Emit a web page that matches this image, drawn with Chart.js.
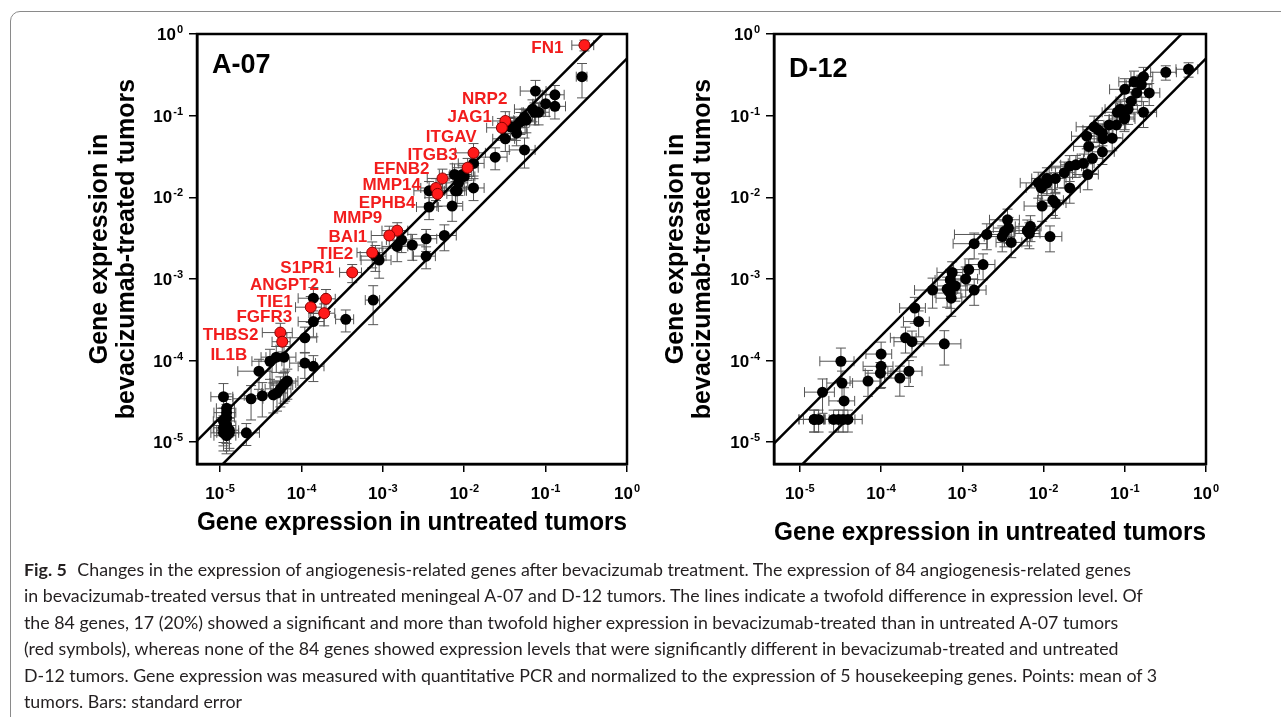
<!DOCTYPE html>
<html>
<head>
<meta charset="utf-8">
<script src="https://cdn.jsdelivr.net/npm/chart.js@4.4.1/dist/chart.umd.min.js"></script>
<style>
  html, body { margin: 0; padding: 0; background: #fff; width: 1281px; height: 717px; overflow: hidden; }
  #frame { position: absolute; left: 10px; top: 11px; width: 1300px; height: 800px; border: 1px solid #8a8a8a; border-radius: 10px; }
  #cL { position: absolute; left: 0; top: 0; }
  #cR { position: absolute; left: 640px; top: 0; }
  #caption { position: absolute; left: 24px; top: 556px; font-family: Lato, 'Open Sans', sans-serif; color: #231f20; font-size: 17.5px; line-height: 26.4px; }
  #caption div { white-space: nowrap; }
  #caption b { font-weight: bold; margin-right: 6px; }
</style>
</head>
<body>
<div id="frame"></div>
<canvas id="cL" width="640" height="545"></canvas>
<canvas id="cR" width="641" height="560"></canvas>
<div id="caption">
  <div><span id="firstLine"><b>Fig. 5</b> Changes in the expression of angiogenesis-related genes after bevacizumab treatment. The expression of 84 angiogenesis-related genes</span></div>
  <div>in bevacizumab-treated versus that in untreated meningeal A-07 and D-12 tumors. The lines indicate a twofold difference in expression level. Of</div>
  <div>the 84 genes, 17 (20%) showed a significant and more than twofold higher expression in bevacizumab-treated than in untreated A-07 tumors</div>
  <div>(red symbols), whereas none of the 84 genes showed expression levels that were significantly different in bevacizumab-treated and untreated</div>
  <div>D-12 tumors. Gene expression was measured with quantitative PCR and normalized to the expression of 5 housekeeping genes. Points: mean of 3</div>
  <div>tumors. Bars: standard error</div>
</div>
<script>
// axis ticks (decades) and their exponents
const tickValues = [1e-5, 1e-4, 1e-3, 1e-2, 1e-1, 1];
const tickExponents = ['-5', '-4', '-3', '-2', '-1', '0'];
const foldFactors = [2, 0.5];   // twofold lines

// A-07: genes significantly up (red)
const a07Genes = ['FN1', 'NRP2', 'JAG1', 'ITGAV', 'ITGB3', 'EFNB2', 'MMP14', 'EPHB4', 'MMP9',
  'BAI1', 'TIE2', 'S1PR1', 'ANGPT2', 'TIE1', 'FGFR3', 'THBS2', 'IL1B'];
const a07RedX = [0.30, 0.032, 0.029, 0.013, 0.011, 0.0054, 0.0045, 0.0047, 0.0015,
  0.0012, 0.00074, 0.00042, 0.00020, 0.00013, 0.00019, 0.000055, 0.000058];
const a07RedY = [0.73, 0.086, 0.071, 0.035, 0.023, 0.017, 0.013, 0.011, 0.0039,
  0.0034, 0.0021, 0.0012, 0.00057, 0.00045, 0.00038, 0.00022, 0.00017];
const a07RedXErr = [0.3, 0.3, 0.35, 0.4, 0.35, 0.35, 0.35, 0.3, 0.35, 0.4, 0.35, 0.3, 0.3, 0.35, 0.35, 0.4, 0.25];
const a07RedYErr = [0.15, 0.3, 0.3, 0.3, 0.3, 0.3, 0.3, 0.3, 0.25, 0.3, 0.35, 0.25, 0.3, 0.35, 0.3, 0.3, 0.25];

// A-07: other genes (black)
const a07BlackX = [0.28, 0.075, 0.13, 0.10, 0.13, 0.069, 0.073, 0.055, 0.049, 0.043,
  0.044, 0.032, 0.055, 0.024, 0.013, 0.0076, 0.0095, 0.013, 0.0078, 0.0037,
  0.0082, 0.0071, 0.0037, 0.0034, 0.0057, 0.0017, 0.0023, 0.0015, 0.00090, 0.00081,
  0.0034, 0.00076, 0.00014, 0.00035, 0.00014, 0.00011, 0.000061, 0.000049, 0.000041, 0.000030,
  0.00011, 0.00014, 0.000067, 0.000060, 0.000055, 0.000050, 0.000033, 0.000024, 0.000011, 0.000012,
  0.000012, 0.000012, 0.000011, 0.000011, 0.000013, 0.000021, 0.000012, 0.000013, 0.000011, 0.000012,
  0.037, 0.082, 0.058, 0.010, 0.0085, 0.000063, 0.000045];
const a07BlackY = [0.30, 0.20, 0.18, 0.14, 0.13, 0.12, 0.11, 0.096, 0.084, 0.071,
  0.061, 0.052, 0.038, 0.031, 0.026, 0.019, 0.019, 0.013, 0.012, 0.012,
  0.012, 0.0078, 0.0076, 0.0031, 0.0034, 0.0030, 0.0026, 0.0025, 0.0017, 0.0019,
  0.0019, 0.00055, 0.00058, 0.00032, 0.00030, 0.00019, 0.00011, 0.00011, 0.000098, 0.000074,
  0.000093, 0.000085, 0.000056, 0.000050, 0.000045, 0.000040, 0.000037, 0.000034, 0.000036, 0.000026,
  0.000020, 0.000016, 0.000013, 0.000015, 0.000013, 0.000013, 0.000012, 0.000014, 0.000018, 0.000023,
  0.073, 0.11, 0.088, 0.018, 0.015, 0.000053, 0.000038];
const a07BlackXErr = [0.15, 0.35, 0.3, 0.3, 0.35, 0.4, 0.3, 0.35, 0.3, 0.3, 0.35, 0.3, 0.35, 0.4, 0.35, 0.35, 0.3, 0.35, 0.3, 0.35, 0.3, 0.35, 0.3,
  0.35, 0.4, 0.35, 0.4, 0.35, 0.4, 0.35, 0.3, 0.2, 0.35, 0.25, 0.35, 0.4,
  0.4, 0.35, 0.4, 0.45, 0.35, 0.35, 0.35, 0.3, 0.35, 0.35, 0.4, 0.4, 0.3, 0.25, 0.25, 0.3, 0.3, 0.25, 0.3, 0.45, 0.3, 0.3, 0.25, 0.3, 0.3, 0.35, 0.3, 0.35, 0.3, 0.35, 0.35];
const a07BlackYErr = [0.45, 0.35, 0.3, 0.3, 0.3, 0.3, 0.3, 0.25, 0.3, 0.3, 0.3, 0.3, 0.4, 0.3, 0.3, 0.35, 0.3, 0.3, 0.3, 0.3, 0.3, 0.35, 0.3,
  0.3, 0.35, 0.3, 0.35, 0.35, 0.4, 0.35, 0.3, 0.5, 0.35, 0.3, 0.35, 0.35,
  0.35, 0.35, 0.4, 0.4, 0.35, 0.35, 0.4, 0.4, 0.4, 0.4, 0.45, 0.45, 0.45, 0.5, 0.45, 0.4, 0.4, 0.4, 0.4, 0.3, 0.4, 0.4, 0.45, 0.45, 0.3, 0.3, 0.3, 0.3, 0.3, 0.4, 0.4];

// D-12: all genes
const d12X = [0.61, 0.32, 0.17, 0.13, 0.10, 0.14, 0.20, 0.12, 0.11, 0.081,
  0.10, 0.099, 0.17, 0.064, 0.079, 0.042, 0.034, 0.053, 0.054, 0.070,
  0.036, 0.053, 0.040, 0.031, 0.035, 0.021, 0.018, 0.021, 0.014, 0.011,
  0.0086, 0.0094, 0.0096, 0.013, 0.014, 0.0036, 0.0037, 0.0031, 0.0040, 0.0063,
  0.0067, 0.012, 0.0020, 0.0014, 0.0018, 0.0012, 0.0011, 0.00075, 0.00082, 0.00065,
  0.00071, 0.00073, 0.0014, 0.00043, 0.00026, 0.00029, 0.00020, 0.00024, 0.00060, 0.00010,
  0.000032, 0.00010, 0.000098, 0.00022, 0.00017, 0.000069, 0.000033, 0.000019, 0.000035, 0.000015,
  0.000017, 0.000026, 0.000030, 0.000034, 0.000039, 0.16, 0.088, 0.047, 0.025, 0.011,
  0.0069, 0.00071, 0.000015, 0.0033];
const d12Y = [0.37, 0.34, 0.30, 0.26, 0.21, 0.19, 0.19, 0.15, 0.12, 0.11,
  0.096, 0.091, 0.11, 0.077, 0.077, 0.073, 0.056, 0.061, 0.052, 0.053,
  0.042, 0.036, 0.030, 0.026, 0.019, 0.024, 0.020, 0.013, 0.017, 0.017,
  0.015, 0.013, 0.0078, 0.0092, 0.0085, 0.0053, 0.0042, 0.0033, 0.0028, 0.0039,
  0.0036, 0.0033, 0.0035, 0.0027, 0.0015, 0.0013, 0.0010, 0.0012, 0.00082, 0.00075,
  0.00067, 0.00058, 0.00073, 0.00073, 0.00044, 0.00030, 0.00019, 0.00017, 0.00016, 0.00012,
  0.000098, 0.000085, 0.000070, 0.000074, 0.000061, 0.000056, 0.000053, 0.000041, 0.000032, 0.000019,
  0.000019, 0.000019, 0.000019, 0.000019, 0.000019, 0.24, 0.12, 0.067, 0.025, 0.015,
  0.0044, 0.00097, 0.000019, 0.0038];
const d12XErr = [0.3, 0.35, 0.3, 0.35, 0.35, 0.3, 0.35, 0.35, 0.3, 0.35,
  0.3, 0.35, 0.45, 0.35, 0.3, 0.4, 0.35, 0.35, 0.3, 0.35,
  0.35, 0.4, 0.35, 0.35, 0.35, 0.4, 0.35, 0.35, 0.35, 0.35,
  0.4, 0.35, 0.4, 0.35, 0.35, 0.4, 0.35, 0.4, 0.35, 0.4,
  0.35, 0.4, 0.6, 0.45, 0.4, 0.35, 0.4, 0.35, 0.4, 0.35,
  0.35, 0.35, 0.4, 0.4, 0.35, 0.35, 0.35, 0.4, 0.6, 0.35,
  0.45, 0.4, 0.35, 0.45, 0.35, 0.4, 0.35, 0.4, 0.35, 0.35,
  0.35, 0.35, 0.35, 0.4, 0.5, 0.35, 0.35, 0.35, 0.35, 0.35,
  0.35, 0.35, 0.35, 0.35];
const d12YErr = [0.2, 0.2, 0.3, 0.35, 0.35, 0.3, 0.3, 0.3, 0.35, 0.3,
  0.3, 0.3, 0.35, 0.3, 0.3, 0.35, 0.3, 0.3, 0.3, 0.3,
  0.35, 0.3, 0.35, 0.3, 0.35, 0.35, 0.35, 0.35, 0.35, 0.35,
  0.35, 0.35, 0.35, 0.35, 0.35, 0.35, 0.35, 0.35, 0.35, 0.35,
  0.35, 0.35, 0.35, 0.35, 0.35, 0.35, 0.4, 0.35, 0.35, 0.4,
  0.35, 0.4, 0.35, 0.4, 0.35, 0.35, 0.35, 0.35, 0.45, 0.4,
  0.45, 0.45, 0.35, 0.35, 0.4, 0.35, 0.4, 0.45, 0.45, 0.3,
  0.3, 0.3, 0.3, 0.3, 0.3, 0.3, 0.3, 0.3, 0.3, 0.3,
  0.35, 0.35, 0.3, 0.35];

// where each red gene label sits, relative to its dot (right edge, middle) in px
const a07LabelOffsets = [[-21, 3], [2, -22], [-10, -10], [3, -16], [-10, -12], [-13, -9], [-15, -3], [-22, 9], [-15, -12],
  [-22, 2], [-19, 2], [-18, -4], [-7, -14], [-18, -5], [-32, 4], [-22, 3], [-35, 14]];

const FONT = "'Liberation Sans', Arial, Helvetica, sans-serif";

// fit the caption to the width of the original
const capEl = document.getElementById('caption');
const w0 = document.getElementById('firstLine').getBoundingClientRect().width;
capEl.style.fontSize = (17.5 * 1108 / w0) + 'px';

function pts(xs, ys) {
  return xs.map((x, i) => ({ x: x, y: ys[i] }));
}

function drawPow(ctx, x, y, exp, align) {
  ctx.font = 'bold 17px ' + FONT;
  const wBase = ctx.measureText('10').width;
  ctx.font = 'bold 11px ' + FONT;
  const wExp = ctx.measureText(exp).width;
  const total = wBase + 1 + wExp;
  const x0 = align === 'right' ? x - total : x - total / 2;
  ctx.textAlign = 'left';
  ctx.textBaseline = 'alphabetic';
  ctx.font = 'bold 17px ' + FONT;
  ctx.fillText('10', x0, y);
  ctx.font = 'bold 11px ' + FONT;
  ctx.fillText(exp, x0 + wBase + 1, y - 7);
}

const errorBars = {
  id: 'errorBars',
  beforeDatasetsDraw(chart) {
    const { ctx, chartArea: a, scales: { x, y } } = chart;
    ctx.save();
    ctx.beginPath();
    ctx.rect(a.left, a.top, a.right - a.left, a.bottom - a.top);
    ctx.clip();
    ctx.strokeStyle = '#555';
    ctx.lineWidth = 1;
    const cap = 5;
    chart.data.datasets.forEach(ds => {
      if (!ds.xErr) return;
      ds.data.forEach((p, i) => {
        const px = x.getPixelForValue(p.x), py = y.getPixelForValue(p.y);
        const x1 = x.getPixelForValue(p.x * (1 - ds.xErr[i]));
        const x2 = x.getPixelForValue(p.x * (1 + ds.xErr[i]));
        const y1 = y.getPixelForValue(p.y * (1 - ds.yErr[i]));
        const y2 = y.getPixelForValue(p.y * (1 + ds.yErr[i]));
        ctx.beginPath();
        ctx.moveTo(x1, py); ctx.lineTo(x2, py);
        ctx.moveTo(x1, py - cap); ctx.lineTo(x1, py + cap);
        ctx.moveTo(x2, py - cap); ctx.lineTo(x2, py + cap);
        ctx.moveTo(px, y1); ctx.lineTo(px, y2);
        ctx.moveTo(px - cap, y1); ctx.lineTo(px + cap, y1);
        ctx.moveTo(px - cap, y2); ctx.lineTo(px + cap, y2);
        ctx.stroke();
      });
    });
    ctx.restore();
  }
};

const decor = {
  id: 'decor',
  afterDatasetsDraw(chart, args, opts) {
    const { ctx } = chart;
    if (!opts.genes) return;
    const meta = chart.getDatasetMeta(opts.geneDataset);
    ctx.save();
    ctx.fillStyle = '#f21d1d';
    ctx.font = 'bold 17px ' + FONT;
    ctx.textAlign = 'right';
    ctx.textBaseline = 'middle';
    opts.genes.forEach((g, i) => {
      const el = meta.data[i];
      const off = opts.offsets[i];
      ctx.fillText(g, el.x + off[0], el.y + off[1]);
    });
    ctx.restore();
  },
  afterDraw(chart, args, opts) {
    const { ctx, chartArea: a, scales: { x, y } } = chart;
    ctx.save();
    // frame round the plot
    ctx.strokeStyle = '#000';
    ctx.lineWidth = 2.5;
    ctx.strokeRect(a.left, a.top, a.right - a.left, a.bottom - a.top);
    // tick labels 10^n
    ctx.fillStyle = '#000';
    tickValues.forEach((v, i) => {
      drawPow(ctx, x.getPixelForValue(v), a.bottom + 35, tickExponents[i], 'center');
      drawPow(ctx, a.left - 14, y.getPixelForValue(v) + 6, tickExponents[i], 'right');
    });
    // panel name
    ctx.font = 'bold 27px ' + FONT;
    ctx.textAlign = 'left';
    ctx.textBaseline = 'alphabetic';
    ctx.fillText(opts.panel, a.left + opts.panelPos[0], a.top + opts.panelPos[1]);
    ctx.restore();
  }
};

function foldLine(f) {
  return {
    data: [{ x: 1e-7, y: 1e-7 * f }, { x: 10, y: 10 * f }],
    showLine: true, borderColor: '#000', borderWidth: 2.5, pointRadius: 0, order: 3
  };
}

function makeChart(id, cfg) {
  const titleFont = { family: FONT, size: 25, weight: 'bold', lineHeight: 1.1 };
  return new Chart(document.getElementById(id), {
    type: 'scatter',
    data: { datasets: cfg.datasets.concat(foldFactors.map(foldLine)) },
    options: {
      responsive: false,
      animation: false,
      layout: { padding: { left: 0, top: 34, right: cfg.padRight, bottom: 0 } },
      plugins: {
        legend: { display: false },
        tooltip: { enabled: false },
        decor: cfg.decor
      },
      scales: {
        x: {
          type: 'logarithmic', min: cfg.xMin, max: 1,
          afterBuildTicks: s => { s.ticks = tickValues.map(v => ({ value: v })); },
          afterFit: s => { s.height = cfg.xAxisHeight; },
          ticks: { display: false },
          grid: { drawOnChartArea: false, drawTicks: true, tickLength: 8, color: '#000', lineWidth: 1.5 },
          border: { display: true, color: '#000', width: 2.5 },
          title: { display: true, text: 'Gene expression in untreated tumors', color: '#000', font: titleFont, padding: { top: 0, bottom: cfg.xTitlePad } }
        },
        y: {
          type: 'logarithmic', min: cfg.yMin, max: 1,
          afterBuildTicks: s => { s.ticks = tickValues.map(v => ({ value: v })); },
          afterFit: s => { s.width = cfg.yAxisWidth; },
          ticks: { display: false },
          grid: { drawOnChartArea: false, drawTicks: true, tickLength: 8, color: '#000', lineWidth: 1.5 },
          border: { display: true, color: '#000', width: 2.5 },
          title: { display: true, text: ['Gene expression in', 'bevacizumab-treated tumors'], color: '#000', font: titleFont, padding: { top: cfg.yTitlePad, bottom: 0 } }
        }
      }
    },
    plugins: [errorBars, decor]
  });
}

const dot = { pointRadius: 5.5, pointHoverRadius: 5.5, showLine: false };

makeChart('cL', {
  xMin: 5.2e-6, yMin: 5.4e-6, padRight: 13, xAxisHeight: 81, yAxisWidth: 197, xTitlePad: 8, yTitlePad: 86,
  datasets: [
    Object.assign({ data: pts(a07RedX, a07RedY), xErr: a07RedXErr, yErr: a07RedYErr,
      backgroundColor: '#ff1a1a', borderColor: '#8a0000', borderWidth: 1, order: 1 }, dot),
    Object.assign({ data: pts(a07BlackX, a07BlackY), xErr: a07BlackXErr, yErr: a07BlackYErr,
      backgroundColor: '#000', borderColor: '#000', borderWidth: 0, order: 2 }, dot)
  ],
  decor: { panel: 'A-07', panelPos: [15, 39], genes: a07Genes, geneDataset: 0, offsets: a07LabelOffsets }
});

makeChart('cR', {
  xMin: 4.8e-6, yMin: 5.4e-6, padRight: 75, xAxisHeight: 96, yAxisWidth: 134, xTitlePad: 13, yTitlePad: 22,
  datasets: [
    Object.assign({ data: pts(d12X, d12Y), xErr: d12XErr, yErr: d12YErr,
      backgroundColor: '#000', borderColor: '#000', borderWidth: 0, order: 1 }, dot)
  ],
  decor: { panel: 'D-12', panelPos: [15, 43] }
});
</script>
</body>
</html>
